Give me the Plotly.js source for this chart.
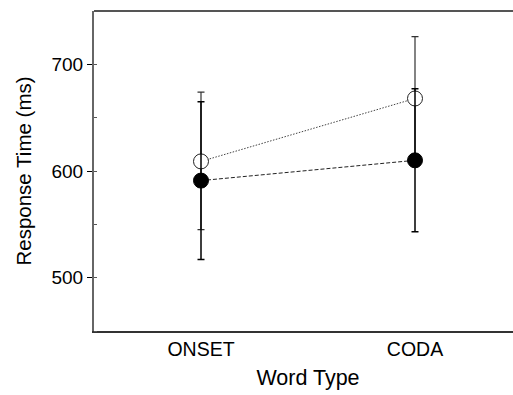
<!DOCTYPE html>
<html>
<head>
<meta charset="utf-8">
<script src="https://cdn.plot.ly/plotly-3.0.1.min.js"></script>
<style>
html,body{margin:0;padding:0;overflow:hidden;background:#fff;}
#chart{width:522px;height:395px;}
</style>
</head>
<body>
<div id="chart"></div>
<script>
var categories = ["ONSET", "CODA"];
var openMeans = [609, 668];
var openErrPlus = [65, 58];
var openErrMinus = [64, 58];
var filledMeans = [591, 610];
var filledErr = [74, 67];

var xIdx = categories.map(function(c, i){ return i; });

var openTrace = {
  x: xIdx, y: openMeans, type: 'scatter', mode: 'lines+markers',
  line: {color: '#444', width: 1, dash: '1.5px,1.5px'},
  marker: {symbol: 'circle', size: 15, color: '#fff', line: {color: '#222', width: 1}},
  error_y: {type: 'data', symmetric: false, array: openErrPlus, arrayminus: openErrMinus,
            color: '#333', thickness: 1.2, width: 3.5},
  showlegend: false, hoverinfo: 'none'
};
var filledTrace = {
  x: xIdx, y: filledMeans, type: 'scatter', mode: 'lines+markers',
  line: {color: '#222', width: 1, dash: '4px,2px'},
  marker: {symbol: 'circle', size: 15, color: '#000', line: {color: '#000', width: 1}},
  error_y: {type: 'data', array: filledErr, color: '#000', thickness: 1.5, width: 3.5},
  showlegend: false, hoverinfo: 'none'
};

var layout = {
  width: 522, height: 395,
  margin: {l: 94, r: 0, t: 11, b: 64, pad: 0},
  paper_bgcolor: '#fff', plot_bgcolor: '#fff',
  font: {family: 'Liberation Sans, Arial, sans-serif', color: '#000', size: 19},
  xaxis: {
    range: [-0.5, 1.5], tickvals: xIdx, ticktext: categories,
    showgrid: false, zeroline: false, showline: true, linecolor: '#333', linewidth: 1.5,
    ticks: '', tickfont: {size: 19.5},
    title: {text: 'Word Type', font: {size: 21.5}, standoff: 11}
  },
  yaxis: {
    range: [450, 750], tickvals: [500, 600, 700],
    showgrid: false, zeroline: false, showline: true, linecolor: '#666', linewidth: 2,
    ticks: 'outside', ticklen: 5, tickwidth: 1, tickcolor: '#000',
    minor: {dtick: 50, ticks: 'inside', ticklen: 3, tickwidth: 1, tickcolor: '#555'},
    tickfont: {size: 19},
    title: {text: 'Response Time (ms)', font: {size: 20.5}, standoff: 14}
  },
  shapes: [{type: 'line', xref: 'paper', yref: 'paper', x0: 0, x1: 1, y0: 1, y1: 1,
            line: {color: '#555', width: 2}}]
};

Plotly.newPlot('chart', [openTrace, filledTrace], layout, {staticPlot: true, displayModeBar: false});
</script>
</body>
</html>
